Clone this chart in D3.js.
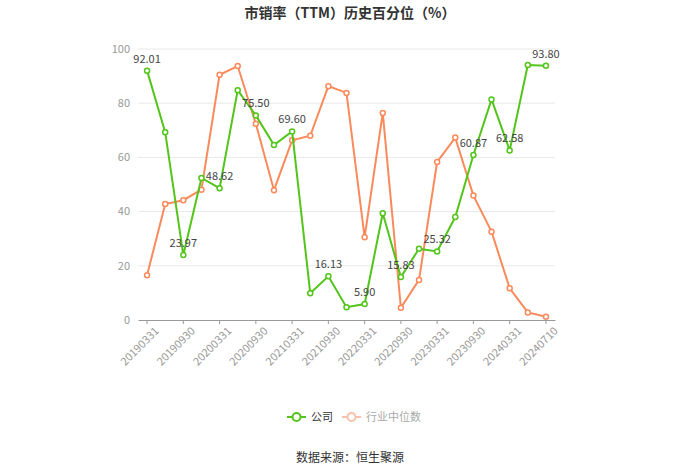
<!DOCTYPE html>
<meta charset="utf-8">
<script src="https://d3js.org/d3.v7.min.js"></script>
<style>
  body { margin: 0; background: #fff; }
  text { font-family: "Noto Sans CJK SC", "Noto Sans", sans-serif; }
</style>
<div id="chart"></div>
<script>

// dates (quarter ends + latest)
var dates = ["20190331","20190630","20190930","20191231","20200331","20200630","20200930","20201231",
             "20210331","20210630","20210930","20211231","20220331","20220630","20220930","20221231",
             "20230331","20230630","20230930","20231231","20240331","20240630","20240710"];

// company percentile
var company = [92.01, 69.3, 23.97, 52.4, 48.62, 84.8, 75.50, 64.6, 69.60, 9.9, 16.13, 4.7,
               5.90, 39.4, 15.83, 26.3, 25.32, 38.0, 60.87, 81.4, 62.58, 94.1, 93.80];

// industry median percentile
var industry = [16.5, 42.8, 44.2, 48.1, 90.5, 93.7, 72.4, 47.9, 66.3, 68.0, 86.3, 83.8,
                30.5, 76.4, 4.5, 14.8, 58.3, 67.3, 45.9, 32.6, 11.7, 2.8, 1.2];

var yTicks = [0, 20, 40, 60, 80, 100];

var W = 700, H = 474;
var margin = {top: 49, right: 145, bottom: 154, left: 138};
var width = W - margin.left - margin.right,
    height = H - margin.top - margin.bottom;

var green = "#52c41a", orange = "#fa8a5c";

var svg = d3.select("#chart").append("svg")
    .attr("width", W).attr("height", H);

// title
svg.append("text")
    .attr("x", 350).attr("y", 18)
    .attr("text-anchor", "middle")
    .style("font-size", "14px").style("font-weight", "bold")
    .attr("fill", "#333")
    .text("市销率（TTM）历史百分位（%）");

var g = svg.append("g")
    .attr("transform", "translate(" + margin.left + "," + margin.top + ")");

var x = d3.scaleBand().domain(dates).range([0, width]);
var y = d3.scaleLinear().domain([0, 100]).range([height, 0]);
var cx = function(i) { return x(dates[i]) + x.bandwidth() / 2; };

// grid
g.selectAll(".grid").data(yTicks.filter(function(d) { return d > 0; }))
  .enter().append("line")
    .attr("x1", 0).attr("x2", width)
    .attr("y1", function(d) { return y(d); })
    .attr("y2", function(d) { return y(d); })
    .attr("stroke", "#e8e8e8");

// y labels
g.selectAll(".ylab").data(yTicks)
  .enter().append("text")
    .attr("x", -8).attr("y", function(d) { return y(d); })
    .attr("dy", "0.35em")
    .attr("text-anchor", "end")
    .attr("fill", "#999")
    .style("font-size", "11px")
    .text(function(d) { return d; });

// x axis
var labelled = dates.filter(function(d, i) { return i % 2 === 0; });
var xAxis = g.append("g")
    .attr("transform", "translate(0," + height + ")")
    .call(d3.axisBottom(x).tickValues(labelled).tickSize(4).tickSizeOuter(0));
xAxis.select(".domain").attr("stroke", "#999");
xAxis.selectAll(".tick line").attr("stroke", "#999");
xAxis.selectAll(".tick text")
    .attr("fill", "#999")
    .style("font-size", "11px")
    .attr("text-anchor", "end")
    .attr("transform", "translate(3,2) rotate(-45)")
    .attr("dx", 0).attr("dy", "0.6em");

// lines
var line = d3.line()
    .x(function(d, i) { return cx(i); })
    .y(function(d) { return y(d); });

function drawSeries(data, color) {
  g.append("path").datum(data)
    .attr("fill", "none").attr("stroke", color).attr("stroke-width", 2)
    .attr("d", line);
  g.selectAll(null).data(data).enter().append("circle")
    .attr("cx", function(d, i) { return cx(i); })
    .attr("cy", function(d) { return y(d); })
    .attr("r", 2.5)
    .attr("fill", "#fff").attr("stroke", color).attr("stroke-width", 1.5);
}
drawSeries(industry, orange);
drawSeries(company, green);

// value labels on company series
g.selectAll(".vlab").data(company)
  .enter().filter(function(d, i) { return i % 2 === 0; }).append("text")
    .attr("x", function(d, i) { return cx(company.indexOf(d)); })
    .attr("y", function(d) { return y(d) - 8; })
    .attr("text-anchor", "middle")
    .attr("fill", "#444")
    .style("font-size", "11px")
    .text(function(d) { return d.toFixed(2); });

// legend
var leg = svg.append("g").attr("transform", "translate(0,417)");
leg.append("line").attr("x1", 287).attr("x2", 306).attr("stroke", green).attr("stroke-width", 2);
leg.append("circle").attr("cx", 296.5).attr("r", 4).attr("fill", "#fff").attr("stroke", green).attr("stroke-width", 2);
leg.append("text").attr("x", 311).attr("dy", "0.35em").attr("fill", "#333").style("font-size", "11px").text("公司");
leg.append("line").attr("x1", 342).attr("x2", 361).attr("stroke", "#f7c1aa").attr("stroke-width", 2);
leg.append("circle").attr("cx", 351.5).attr("r", 4).attr("fill", "#fff").attr("stroke", "#f7c1aa").attr("stroke-width", 2);
leg.append("text").attr("x", 366).attr("dy", "0.35em").attr("fill", "#aaa").style("font-size", "11px").text("行业中位数");

// source
svg.append("text")
    .attr("x", 350).attr("y", 462)
    .attr("text-anchor", "middle")
    .attr("fill", "#333")
    .style("font-size", "12px")
    .text("数据来源：恒生聚源");
</script>
